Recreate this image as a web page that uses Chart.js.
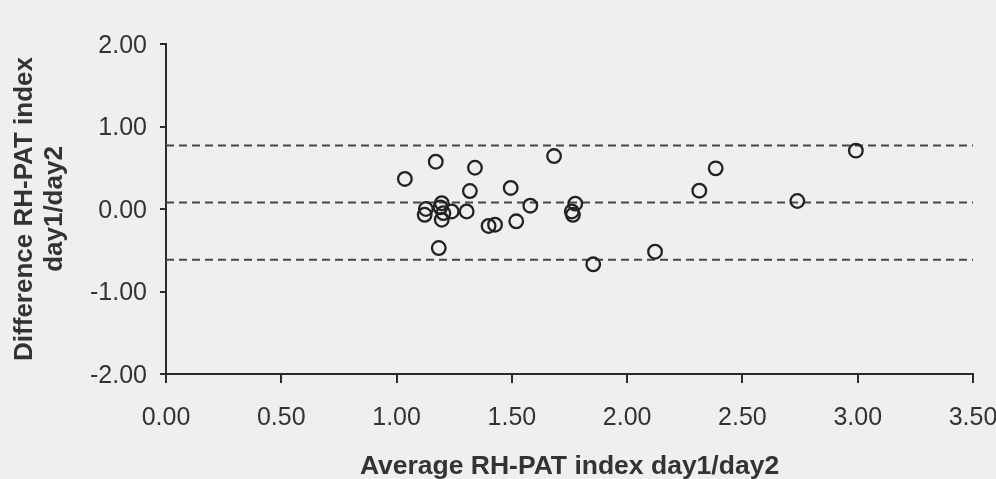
<!DOCTYPE html>
<html>
<head>
<meta charset="utf-8">
<script src="https://cdn.jsdelivr.net/npm/chart.js@4"></script>
<style>
html,body{margin:0;padding:0;background:#efefef;}
#wrap{width:996px;height:479px;position:relative;}
</style>
</head>
<body>
<div id="wrap"><canvas id="c" width="996" height="479"></canvas></div>
<script>
// Bland-Altman data: average (x) and difference (y)
const avgValues  = [1.036, 1.170, 1.340, 1.318, 1.495, 1.683, 1.127, 1.122, 1.196, 1.190, 1.203, 1.196, 1.239, 1.304, 1.399, 1.427, 1.519, 1.580, 1.775, 1.760, 1.765, 1.183, 1.853, 2.992, 2.384, 2.313, 2.738, 2.121];
const diffValues = [0.364, 0.573, 0.500, 0.218, 0.255, 0.642, 0.000, -0.070, 0.070, 0.020, -0.050, -0.130, -0.030, -0.030, -0.206, -0.190, -0.149, 0.040, 0.065, -0.030, -0.070, -0.473, -0.670, 0.707, 0.493, 0.222, 0.097, -0.518];
// limits of agreement: upper, mean, lower
const limitValues = [0.770, 0.078, -0.615];
const xRange = [0, 3.5];
const xTicks = [0, 0.5, 1, 1.5, 2, 2.5, 3, 3.5];
const yTicks = [-2, -1, 0, 1, 2];
const xTitle = 'Average RH-PAT index day1/day2';
const yTitle = ['Difference RH-PAT index', 'day1/day2'];

const ink = '#2b2b2b';
const textCol = '#333333';
const fam = '"Liberation Sans", Arial, sans-serif';

const datasets = limitValues.map(v => ({
  type: 'scatter',
  data: xRange.map(x => ({x: x, y: v})),
  showLine: true,
  borderColor: '#474747',
  borderWidth: 2,
  borderDash: [8, 5],
  pointRadius: 0,
  fill: false,
  order: 2
}));
datasets.push({
  type: 'scatter',
  data: avgValues.map((x, i) => ({x: x, y: diffValues[i]})),
  pointStyle: 'circle',
  pointRadius: 6.8,
  pointBorderWidth: 2.3,
  pointBorderColor: '#222',
  pointBackgroundColor: 'rgba(0,0,0,0)',
  showLine: false,
  order: 1
});

new Chart(document.getElementById('c'), {
  type: 'scatter',
  data: {datasets},
  options: {
    responsive: false,
    animation: false,
    events: [],
    layout: {padding: {left: 0, top: 44, right: 23, bottom: 0}},
    plugins: {legend: {display: false}, tooltip: {enabled: false}},
    scales: {
      x: {
        type: 'linear', min: xRange[0], max: xRange[1],
        afterBuildTicks: s => { s.ticks = xTicks.map(v => ({value: v})); },
        afterFit: s => { s.height = 105; s.paddingRight = 0; s.paddingLeft = 0; },
        grid: {drawOnChartArea: false, drawTicks: true, tickLength: 9, color: ink, lineWidth: 2},
        border: {display: true, color: ink, width: 2},
        ticks: {color: textCol, font: {family: fam, size: 25}, padding: 20, maxRotation: 0,
                callback: v => Number(v).toFixed(2)},
        title: {display: true, text: xTitle, color: textCol,
                font: {family: fam, size: 26.5, weight: 'bold', lineHeight: 1},
                padding: {top: 0, bottom: -1}}
      },
      y: {
        type: 'linear', min: -2, max: 2,
        afterBuildTicks: s => { s.ticks = yTicks.map(v => ({value: v})); },
        afterFit: s => { s.width = 166; },
        grid: {drawOnChartArea: false, drawTicks: true, tickLength: 6, color: ink, lineWidth: 2},
        border: {display: true, color: ink, width: 2},
        ticks: {color: textCol, font: {family: fam, size: 25}, padding: 13, labelOffset: 2,
                callback: v => Number(v).toFixed(2)},
        title: {display: true, text: yTitle, color: textCol,
                font: {family: fam, size: 26, weight: 'bold', lineHeight: 1.15},
                padding: {top: 10, bottom: 0}}
      }
    }
  }
});
</script>
</body>
</html>
